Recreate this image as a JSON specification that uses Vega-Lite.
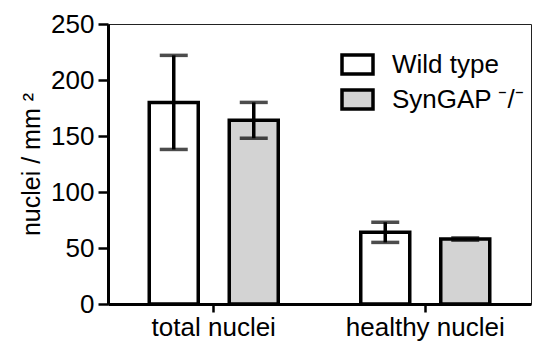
{
  "$schema": "https://vega.github.io/schema/vega-lite/v6.json",
  "autosize": "none",
  "width": 423,
  "height": 280,
  "padding": {"left": 108, "top": 24, "right": 2, "bottom": 39},
  "background": "white",
  "config": {
    "font": "Liberation Sans",
    "view": {"stroke": "#222222", "strokeWidth": 1},
    "axis": {
      "grid": false,
      "domainColor": "black",
      "tickColor": "black",
      "labelColor": "black",
      "titleColor": "black",
      "domainWidth": 3,
      "tickWidth": 2.5,
      "labelFontSize": 26,
      "titleFontSize": 25,
      "titleFontWeight": "normal"
    }
  },
  "data": {
    "values": [
      {"group": "total nuclei", "genotype": "Wild type", "mean": 180, "lo": 138, "hi": 222},
      {"group": "total nuclei", "genotype": "SynGAP ⁻/⁻", "mean": 164, "lo": 148, "hi": 180},
      {"group": "healthy nuclei", "genotype": "Wild type", "mean": 64, "lo": 55, "hi": 73},
      {"group": "healthy nuclei", "genotype": "SynGAP ⁻/⁻", "mean": 58, "lo": 57, "hi": 59}
    ]
  },
  "encoding": {
    "x": {
      "field": "group",
      "type": "nominal",
      "sort": ["total nuclei", "healthy nuclei"],
      "scale": {"paddingInner": 0, "paddingOuter": 0},
      "axis": {"title": null, "labelAngle": 0, "tickSize": 8, "labelPadding": 2}
    },
    "xOffset": {
      "field": "genotype",
      "type": "nominal",
      "sort": ["Wild type", "SynGAP ⁻/⁻"],
      "scale": {"paddingInner": 0.3875, "paddingOuter": 0.5156}
    }
  },
  "layer": [
    {
      "mark": {"type": "bar", "stroke": "black", "strokeWidth": 3.5},
      "encoding": {
        "y": {
          "field": "mean",
          "type": "quantitative",
          "title": "nuclei / mm ²",
          "scale": {"domain": [0, 250], "nice": false},
          "axis": {"values": [0, 50, 100, 150, 200, 250], "tickSize": 10, "labelPadding": 4, "titlePadding": 6}
        },
        "fill": {
          "field": "genotype",
          "type": "nominal",
          "scale": {"domain": ["Wild type", "SynGAP ⁻/⁻"], "range": ["white", "#d3d3d3"]},
          "legend": {
            "title": null,
            "orient": "none",
            "legendX": 232,
            "legendY": 23,
            "padding": 0,
            "symbolType": "M-1,-0.613L1,-0.613L1,0.613L-1,0.613Z",
            "symbolSize": 961,
            "symbolStrokeColor": "black",
            "symbolStrokeWidth": 3.5,
            "labelFontSize": 26,
            "labelColor": "black",
            "labelOffset": 17,
            "rowPadding": -2,
            "encode": {"symbols": {"update": {"stroke": {"value": "black"}, "strokeWidth": {"value": 3.5}}}}
          }
        }
      }
    },
    {
      "mark": {"type": "rule", "strokeWidth": 3.5, "color": "black"},
      "encoding": {
        "y": {"field": "lo", "type": "quantitative", "title": "nuclei / mm ²"},
        "y2": {"field": "hi"}
      }
    },
    {
      "mark": {"type": "tick", "size": 28, "thickness": 3.5, "color": "black"},
      "encoding": {"y": {"field": "hi", "type": "quantitative", "title": "nuclei / mm ²"}}
    },
    {
      "mark": {"type": "tick", "size": 28, "thickness": 3.5, "color": "black"},
      "encoding": {"y": {"field": "lo", "type": "quantitative", "title": "nuclei / mm ²"}}
    }
  ]
}
